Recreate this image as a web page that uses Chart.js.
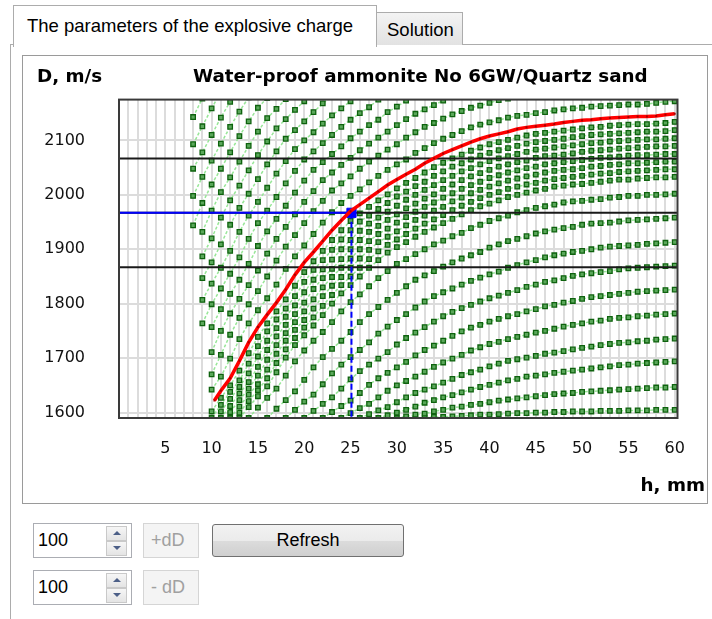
<!DOCTYPE html>
<html>
<head>
<meta charset="utf-8">
<title>Water-proof ammonite No 6GW/Quartz sand</title>
<script src="https://cdn.jsdelivr.net/npm/chart.js@4.4.1/dist/chart.umd.min.js"></script>
<style>
  html, body { margin:0; padding:0; background:#fff; }
  body { width:712px; height:619px; position:relative; overflow:hidden; font-family:"Liberation Sans", Arial, sans-serif; color:#000; }
  .abs { position:absolute; }
  #pTop { left:10px; top:44px; width:702px; height:0; border-top:1px solid #acacac; }
  #pLeft { left:10px; top:44px; width:0; height:580px; border-left:1px solid #acacac; }
  #tab1 { left:13px; top:5px; width:362px; height:41px; background:#fff; border:1px solid #acacac; border-bottom:none; }
  #tab1 span { position:absolute; left:13px; top:9px; font-size:18.5px; white-space:nowrap; }
  #tab2 { left:376px; top:12px; width:85px; height:32px; background:linear-gradient(#f3f3f3,#e2e2e2); border:1px solid #acacac; border-bottom:none; }
  #tab2 span { position:absolute; left:10px; top:6px; font-size:18.5px; white-space:nowrap; }
  #box { left:22px; top:55px; width:684px; height:447px; border:1px solid #9a9a9a; background:#fff; }
  #chart { position:absolute; left:23px; top:56px; }
  .ttl { font-family:"DejaVu Sans", Verdana, sans-serif; font-weight:bold; font-size:18.3px; line-height:20px; white-space:nowrap; }
  .num { width:97px; height:33px; border:1px solid #abadb3; background:#fff; }
  .num .v { position:absolute; left:4px; top:6px; font-size:18px; }
  .spin { position:absolute; left:72px; top:2px; width:21px; height:29px; }
  .spin div { position:absolute; left:0; width:19px; height:13px; border:1px solid #c9c9c9; background:linear-gradient(#f6f6f6,#e4e4e4); }
  .up { top:0; } .dn { top:15px; }
  .tri-up { position:absolute; left:6px; top:4px; width:0; height:0; border-left:4px solid transparent; border-right:4px solid transparent; border-bottom:4px solid #4c5f87; }
  .tri-dn { position:absolute; left:6px; top:4px; width:0; height:0; border-left:4px solid transparent; border-right:4px solid transparent; border-top:4px solid #4c5f87; }
  .bdis { border:1px solid #d5d5d5; background:#f4f4f4; color:#a0a0a0; font-size:18px; }
  .bdis span { position:absolute; left:7px; top:6px; white-space:nowrap; }
  #refresh { left:212px; top:524px; width:190px; height:31px; border:1px solid #707070; border-radius:3px; background:linear-gradient(#f2f2f2 0%, #ebebeb 50%, #dcdcdc 51%, #cfcfcf 100%); font-size:18px; text-align:center; line-height:31px; }
</style>
</head>
<body>
<div class="abs" id="pTop"></div>
<div class="abs" id="pLeft"></div>
<div class="abs" id="tab2"><span>Solution</span></div>
<div class="abs" id="tab1"><span>The parameters of the explosive charge</span></div>
<div class="abs" id="box"></div>
<canvas id="chart" width="683" height="446"></canvas>
<div class="abs ttl" style="left:37px; top:66px;">D, m/s</div>
<div class="abs ttl" style="left:193px; top:66px;">Water-proof ammonite No 6GW/Quartz sand</div>
<div class="abs ttl" style="right:7px; top:475px;">h, mm</div>

<div class="abs num" style="left:33px; top:523px;"><span class="v">100</span>
  <div class="spin"><div class="up"><i class="tri-up"></i></div><div class="dn"><i class="tri-dn"></i></div></div></div>
<div class="abs bdis" style="left:143px; top:523px; width:54px; height:33px;"><span>+dD</span></div>
<div class="abs" id="refresh">Refresh</div>
<div class="abs num" style="left:33px; top:570px;"><span class="v">100</span>
  <div class="spin"><div class="up"><i class="tri-up"></i></div><div class="dn"><i class="tri-dn"></i></div></div></div>
<div class="abs bdis" style="left:143px; top:570px; width:54px; height:33px;"><span>- dD</span></div>

<script>
// ---- axis ticks ----
const X_TICK_LABELS = [5, 10, 15, 20, 25, 30, 35, 40, 45, 50, 55, 60];
const Y_TICK_LABELS = [1600, 1700, 1800, 1900, 2000, 2100];

// ---- working point and tolerance (m/s, mm) ----
const WORK_H = [25.1];
const WORK_D = [1967];
const DELTA_D = [100, 100];   // +dD, -dD

// ---- red curve (optimal) ----
const RED_H = [10.3, 11, 12, 13, 14, 15, 16, 17, 18, 19, 20, 21, 22, 23, 24, 25, 26, 27, 28, 29, 30,
  31, 32, 33, 34, 35, 36, 37, 38, 39, 40, 41, 42, 43, 44, 45, 46, 47, 48, 49, 50,
  51, 52, 53, 54, 55, 56, 57, 58, 59, 60];
const RED_D = [1622, 1640, 1663, 1695, 1729, 1757, 1780, 1802, 1826, 1853, 1876, 1895, 1915, 1935, 1953, 1970,
  1982, 1994, 2006, 2018, 2028, 2038, 2047, 2058, 2067, 2076, 2083, 2090, 2097, 2103, 2108, 2112, 2116,
  2121, 2124, 2126, 2128, 2130, 2133, 2135, 2137, 2138, 2140, 2141, 2142, 2143, 2144, 2144, 2145, 2147, 2149];

// ---- green curves, upper-left family (first h of each curve, then D at every 1 mm) ----
const A_START = [10, 10, 10, 10, 9, 9, 9, 9, 9, 8, 8, 8, 8, 8];
const A1 = [1642,1666,1699,1735,1764,1788,1810,1835,1864,1887,1907,1928,1949,1968,1985,1998,2010,2023,2035,2046,2056,2065,2077,2086,2095,2103,2110,2117,2124,2129,2133,2137,2142,2145,2147,2150,2152,2155,2157,2159,2160,2162,2163,2164,2165,2166,2166,2167,2169,2171,2172];
const A2 = [1670,1706,1743,1774,1799,1823,1850,1879,1905,1926,1948,1970,1989,2008,2021,2034,2048,2061,2072,2083,2093,2105,2115,2125,2132,2140,2148,2154,2160,2164,2169,2174,2177,2180];
const A3 = [1711,1750,1782,1809,1834,1861,1892,1919,1941,1964,1987,2007,2027,2041,2055,2068,2082,2094,2105,2116,2128,2139,2149,2157,2165,2173,2180];
const A4 = [1757,1790,1818,1844,1873,1906,1933,1956,1980,2004,2026,2046,2060,2075,2089,2104,2116,2128,2138,2152,2162,2173,2182];
const A5 = [1764,1799,1828,1855,1885,1919,1948,1971,1996,2021,2044,2065,2080,2095,2110,2125,2138,2150,2161,2175,2186];
const A6 = [1807,1837,1866,1897,1932,1962,1987,2013,2039,2062,2084,2100,2115,2131,2146,2159,2172,2184];
const A7 = [1847,1876,1909,1945,1976,2002,2029,2056,2080,2103,2119,2135,2152,2168,2181];
const A8 = [1887,1920,1958,1990,2017,2045,2073,2098,2122,2139,2156,2172,2189];
const A9 = [1932,1971,2005,2032,2061,2090,2116,2141,2158,2176,2193];
const A10 = [1944,1985,2019,2048,2078,2108,2135,2160,2178];
const A11 = [1998,2033,2063,2094,2125,2153,2179];
const A12 = [2048,2078,2110,2142,2171,2198];
const A13 = [2093,2126,2159,2189];
const A14 = [2143,2177,2207];

// ---- green curves, dense family under the red curve ----
const B_START = [10, 10, 11, 11, 12, 12, 13, 13];
const B1 = [1602,1627,1650,1677,1709,1739,1764,1786,1808,1833,1858,1878,1897,1917,1935,1952,1966,1978,1990,2001,2012,2022,2031,2041,2051,2059,2067,2074,2081,2087,2093,2097,2101,2105,2109,2112,2114,2116,2118,2120,2122,2124,2125,2127,2128,2129,2130,2130,2131,2132,2134];
const B2 = [1590,1614,1638,1659,1690,1722,1749,1771,1791,1814,1840,1862,1880,1899,1918,1935,1951,1962,1974,1985,1997,2006,2016,2024,2035,2043,2052,2058,2065,2072,2077,2082,2086,2090,2094,2097,2099,2101,2103,2106,2108,2110,2111,2112,2113,2114,2115,2116,2116,2117,2119];
const B3 = [1602,1625,1647,1672,1703,1732,1755,1776,1797,1821,1844,1863,1881,1900,1917,1934,1947,1958,1969,1980,1991,2000,2009,2018,2027,2035,2043,2049,2056,2062,2067,2071,2075,2079,2083,2085,2087,2089,2091,2093,2095,2096,2098,2099,2100,2101,2102,2102,2103,2104];
const B4 = [1590,1612,1635,1656,1684,1715,1740,1761,1781,1802,1827,1847,1864,1882,1900,1917,1932,1943,1954,1964,1975,1984,1993,2001,2011,2019,2027,2034,2040,2046,2052,2056,2060,2063,2068,2071,2072,2074,2076,2079,2081,2082,2083,2085,2086,2087,2088,2089,2089,2090];
const B5 = [1601,1623,1644,1668,1697,1724,1746,1766,1786,1808,1830,1849,1866,1883,1900,1915,1928,1938,1949,1959,1969,1978,1986,1995,2003,2011,2018,2024,2031,2036,2041,2045,2049,2052,2056,2058,2060,2062,2064,2066,2068,2069,2070,2072,2073,2073,2074,2075,2075];
const B6 = [1590,1611,1633,1652,1679,1708,1732,1752,1770,1791,1814,1833,1849,1866,1883,1899,1913,1923,1933,1944,1954,1962,1971,1978,1988,1995,2003,2009,2015,2021,2026,2030,2034,2037,2041,2044,2046,2047,2049,2052,2053,2055,2056,2058,2058,2059,2060,2061,2061];
const B7 = [1600,1621,1641,1663,1691,1716,1737,1756,1775,1796,1816,1834,1850,1866,1882,1896,1908,1918,1928,1938,1947,1955,1963,1972,1980,1987,1994,2000,2005,2011,2015,2019,2022,2026,2029,2031,2033,2035,2037,2039,2040,2042,2043,2044,2045,2046,2047,2047];
const B8 = [1590,1610,1630,1648,1674,1701,1724,1742,1760,1779,1800,1819,1834,1850,1866,1880,1894,1904,1913,1923,1932,1940,1948,1956,1964,1972,1979,1984,1990,1996,2000,2004,2008,2011,2015,2017,2019,2020,2022,2024,2026,2028,2028,2030,2031,2032,2032,2033];

// ---- green curves, lower family ----
const C_START = [14, 16, 18, 20, 22, 24, 26, 28, 30, 32];
const C0 = [1590,1609,1627,1644,1668,1694,1714,1732,1748,1766,1786,1803,1817,1832,1847,1860,1873,1882,1891,1900,1909,1916,1924,1930,1939,1945,1952,1957,1962,1968,1972,1976,1979,1982,1986,1988,1989,1991,1992,1995,1996,1998,1998,2000,2000,2001,2002];
const C1 = [1590,1607,1623,1639,1660,1683,1702,1717,1732,1748,1766,1781,1794,1807,1820,1832,1844,1852,1860,1868,1876,1883,1889,1895,1903,1909,1915,1919,1924,1929,1933,1936,1939,1941,1945,1947,1948,1949,1951,1953,1954,1955,1956,1957,1958];
const C2 = [1590,1605,1620,1633,1652,1672,1688,1702,1715,1729,1745,1758,1770,1781,1793,1804,1814,1821,1828,1835,1842,1848,1854,1859,1866,1871,1876,1880,1885,1889,1892,1895,1897,1900,1903,1905,1906,1907,1908,1910,1911,1912,1913];
const C3 = [1590,1603,1616,1628,1644,1661,1676,1688,1699,1711,1725,1737,1747,1757,1767,1777,1785,1792,1798,1804,1810,1815,1820,1825,1831,1835,1840,1843,1847,1851,1854,1856,1858,1860,1863,1865,1866,1867,1868,1869,1870];
const C4 = [1590,1601,1612,1622,1636,1651,1663,1673,1683,1693,1705,1715,1723,1732,1741,1749,1756,1761,1767,1772,1777,1781,1786,1790,1795,1798,1802,1805,1809,1812,1814,1816,1818,1820,1822,1823,1824,1825,1826];
const C5 = [1590,1599,1608,1616,1628,1640,1650,1658,1666,1675,1684,1692,1699,1706,1714,1720,1726,1730,1735,1739,1743,1747,1750,1754,1758,1761,1764,1767,1769,1772,1774,1775,1777,1778,1780,1781,1782];
const C6 = [1590,1597,1604,1610,1619,1628,1636,1642,1648,1655,1662,1669,1674,1679,1685,1690,1695,1698,1701,1704,1708,1710,1713,1716,1719,1721,1724,1726,1728,1729,1731,1732,1734,1735,1736];
const C7 = [1590,1595,1600,1605,1611,1618,1623,1628,1632,1637,1642,1647,1651,1655,1659,1662,1666,1668,1670,1673,1675,1677,1679,1681,1683,1685,1687,1688,1690,1691,1692,1693,1694];
const C8 = [1590,1593,1596,1598,1602,1605,1609,1611,1614,1616,1619,1622,1624,1626,1628,1630,1632,1634,1635,1636,1638,1639,1640,1641,1642,1643,1644,1645,1646,1646,1647];
const C9 = [1590,1591,1592,1592,1593,1594,1595,1596,1596,1597,1598,1599,1599,1600,1600,1601,1601,1602,1602,1602,1603,1603,1603,1604,1604,1604,1605,1605,1605];

const A_CURVES = [A1, A2, A3, A4, A5, A6, A7, A8, A9, A10, A11, A12, A13, A14];
const B_CURVES = [B1, B2, B3, B4, B5, B6, B7, B8];
const C_CURVES = [C0, C1, C2, C3, C4, C5, C6, C7, C8, C9];

const X_MIN = 0, X_MAX = 60.3, Y_MIN = 1590, Y_MAX = 2175;

function pts(start, vals) { return vals.map((y, i) => ({ x: start + i, y: y })); }

const greenStyle = {
  borderColor: '#98e698', borderWidth: 1.5, borderDash: [3, 2],
  pointStyle: 'rect', pointRadius: 3.2, pointHoverRadius: 3.2,
  pointBackgroundColor: '#5aa75a', pointBorderColor: '#0e620e', pointBorderWidth: 1.3,
  tension: 0, fill: false
};

const datasets = [];
datasets.push({
  label: 'optimum', data: RED_H.map((x, i) => ({ x: x, y: RED_D[i] })),
  borderColor: '#ff0000', borderWidth: 3.5, pointStyle: 'rect', pointRadius: 1.4,
  pointBackgroundColor: '#a80000', pointBorderWidth: 0, tension: 0, fill: false
});
datasets.push({
  label: 'work point', data: [{ x: WORK_H[0], y: WORK_D[0] }], showLine: false,
  pointStyle: 'rect', pointRadius: 6.5, pointBackgroundColor: '#0000ff', pointBorderColor: '#0000ff'
});
datasets.push({
  label: 'work D', data: [{ x: X_MIN, y: WORK_D[0] }, { x: WORK_H[0], y: WORK_D[0] }],
  borderColor: '#0000ff', borderWidth: 2, pointRadius: 0
});
datasets.push({
  label: 'work h', data: [{ x: WORK_H[0], y: WORK_D[0] }, { x: WORK_H[0], y: Y_MIN }],
  borderColor: '#0000ff', borderWidth: 2, borderDash: [6, 3], pointRadius: 0
});
[WORK_D[0] + DELTA_D[0], WORK_D[0], WORK_D[0] - DELTA_D[1]].forEach(d => {
  datasets.push({ label: 'level', data: [{ x: X_MIN, y: d }, { x: X_MAX, y: d }],
    borderColor: '#1a1a1a', borderWidth: 2, pointRadius: 0 });
});
A_CURVES.forEach((v, i) => datasets.push(Object.assign({ label: 'A' + (i + 1), data: pts(A_START[i], v) }, greenStyle)));
B_CURVES.forEach((v, i) => datasets.push(Object.assign({ label: 'B' + (i + 1), data: pts(B_START[i], v) }, greenStyle)));
C_CURVES.forEach((v, i) => datasets.push(Object.assign({ label: 'C' + i, data: pts(C_START[i], v) }, greenStyle)));

const framePlugin = {
  id: 'frame',
  afterDatasetsDraw(chart) {
    const a = chart.chartArea, c = chart.ctx;
    c.save(); c.strokeStyle = '#3a3a3a'; c.lineWidth = 2;
    c.strokeRect(a.left, a.top, a.right - a.left, a.bottom - a.top);
    c.restore();
  }
};

const tickFont = { family: 'DejaVu Sans', size: 16 };
new Chart(document.getElementById('chart'), {
  type: 'line',
  data: { datasets: datasets },
  plugins: [framePlugin],
  options: {
    animation: false, responsive: false, devicePixelRatio: 1,
    layout: { padding: { top: 39, right: 22, left: 0, bottom: 0 } },
    plugins: { legend: { display: false }, tooltip: { enabled: false }, title: { display: false } },
    scales: {
      x: {
        type: 'linear', min: X_MIN, max: X_MAX,
        afterFit(s) { s.height = 84; },
        border: { display: false },
        grid: { color: '#dcdcdc', lineWidth: 2, drawTicks: false },
        ticks: { stepSize: 1, autoSkip: false, includeBounds: false, maxRotation: 0, padding: 21,
          color: '#111', font: tickFont,
          callback: v => X_TICK_LABELS.includes(v) ? String(v) : '' }
      },
      y: {
        type: 'linear', min: Y_MIN, max: Y_MAX,
        afterFit(s) { s.width = 96; },
        border: { display: false },
        grid: { color: '#dcdcdc', lineWidth: 2, drawTicks: false },
        ticks: { stepSize: 100, includeBounds: false, padding: 34, color: '#111', font: tickFont,
          callback: v => Y_TICK_LABELS.includes(v) ? String(v) : '' }
      }
    }
  }
});
</script>
</body>
</html>
